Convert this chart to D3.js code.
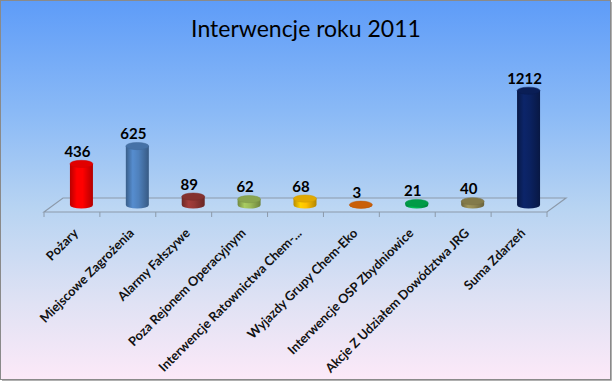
<!DOCTYPE html>
<html><head><meta charset="utf-8">
<script src="https://cdn.jsdelivr.net/npm/d3@7"></script>
<style>html,body{margin:0;padding:0;background:#fff;}svg{display:block;}</style>
</head><body>
<script>
const title = "Interwencje roku 2011";
const categories = ["Pożary","Miejscowe Zagrożenia","Alarmy Fałszywe","Poza Rejonem Operacyjnym","Interwencje Ratownictwa Chem-...","Wyjazdy Grupy Chem-Eko","Interwencje OSP Zbydniowice","Akcje Z Udziałem Dowództwa JRG","Suma Zdarzeń"];
const values = [436,625,89,62,68,3,21,40,1212];
const colors = ["#FF0000","#4F81BD","#953735","#9BBB59","#FFC000","#E46C0A","#00B050","#948A54","#0B2261"];

const W=613,H=382;
const svg=d3.select("body").append("svg").attr("width",W).attr("height",H);
const defs=svg.append("defs");
const bg=defs.append("linearGradient").attr("id","bg").attr("x1",0).attr("y1",0).attr("x2",0).attr("y2",1);
[[0,"#5E9CF8"],[0.3,"#8BBAF6"],[0.55,"#B8D4F2"],[0.8,"#E0E2F4"],[1,"#FCE9F8"]].forEach(s=>bg.append("stop").attr("offset",s[0]).attr("stop-color",s[1]));
svg.append("rect").attr("x",0.5).attr("y",0.5).attr("width",610).attr("height",379).attr("fill","url(#bg)").attr("stroke","#8A8A8A");
svg.append("path").attr("d","M611.5,2 V380.5 H2").attr("fill","none").attr("stroke","#B0B0B0");

svg.append("text").attr("x",306).attr("y",37).attr("text-anchor","middle")
  .style("font-family","Lato, 'Open Sans', sans-serif").style("font-size","23px").style("font-weight",400)
  .attr("fill","#000").text(title);

const x=d3.scaleBand().domain(categories).range([44,547]);
const h=d3.scaleLinear().domain([0,1400]).range([0,132]);
const dx=19, dy=-14; // depth offset
const frontY=212, baseY=frontY+dy/2;

// floor
const x0=x.range()[0], x1=x.range()[1];
svg.append("path").attr("d",`M${x0},${frontY} L${x0+dx},${frontY+dy} L${x1+dx},${frontY+dy} L${x1},${frontY} Z`)
  .attr("fill","rgba(255,255,255,0.08)").attr("stroke","#8C9AAA").attr("stroke-width",1.2);
// ticks
const bounds=categories.map(c=>x(c)).concat([x1]);
svg.selectAll("line.tick").data(bounds).join("line").attr("class","tick")
  .attr("x1",d=>d).attr("x2",d=>d).attr("y1",frontY).attr("y2",frontY+5).attr("stroke","#8C9AAA");

const bw=23, ry=3.6;
categories.forEach((c,i)=>{
  const col=d3.color(colors[i]);
  const g=defs.append("linearGradient").attr("id","g"+i).attr("x1",0).attr("x2",1).attr("y1",0).attr("y2",0);
  [[0,col.darker(0.9)],[0.3,col.brighter(0.25)],[0.55,col],[1,col.darker(1.0)]].forEach(s=>g.append("stop").attr("offset",s[0]).attr("stop-color",s[1]));
  const cx=x(c)+x.bandwidth()/2+dx/2;
  const hh=h(values[i]);
  const top=baseY-hh;
  const left=cx-bw/2,right=cx+bw/2;
  svg.append("path").attr("d",`M${left},${top} L${left},${baseY} A${bw/2},${ry} 0 0 0 ${right},${baseY} L${right},${top} Z`)
    .attr("fill",`url(#g${i})`);
  svg.append("ellipse").attr("cx",cx).attr("cy",top).attr("rx",bw/2).attr("ry",ry)
    .attr("fill",col.darker(0.35)).attr("stroke",col.darker(0.6)).attr("stroke-width",0.5);
  svg.append("text").attr("x",cx-4).attr("y",top-7).attr("text-anchor","middle")
    .style("font-family","Lato, 'Open Sans', sans-serif").style("font-size","15px").style("font-weight",700)
    .attr("fill","#000").text(values[i]);
  const lx=x(c)+x.bandwidth()/2+7, ly=frontY+22;
  svg.append("text").attr("transform",`translate(${lx},${ly}) rotate(-45)`).attr("text-anchor","end")
    .style("font-family","Lato, 'Open Sans', sans-serif").style("font-size","12.8px").style("font-weight",700)
    .attr("fill","#111").text(c);
});
</script>
</body></html>
